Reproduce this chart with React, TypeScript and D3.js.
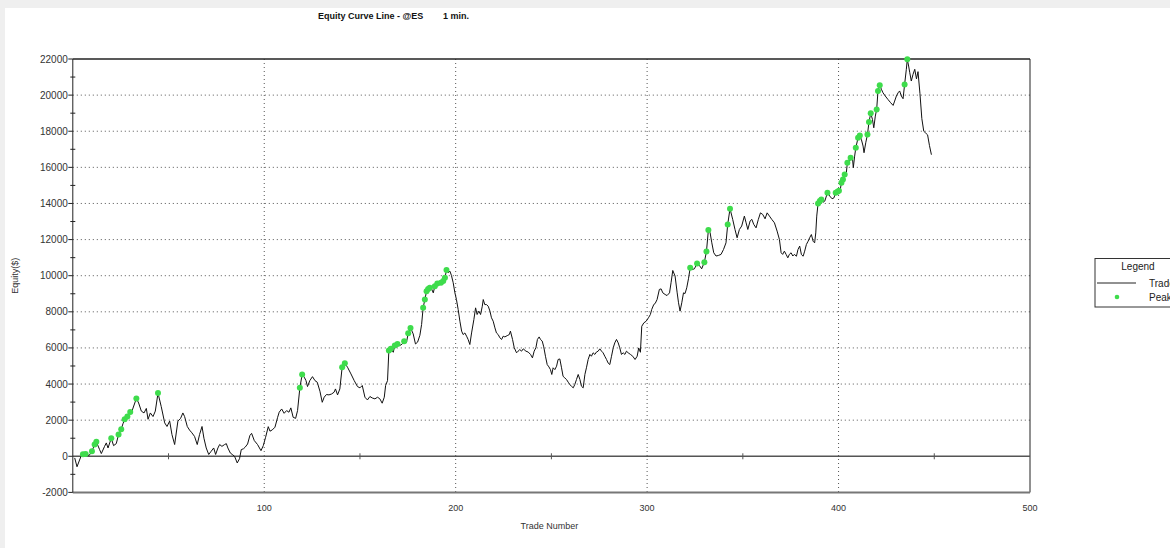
import React from 'react'
import * as d3 from 'd3'

// equity curve: trade number / equity in $
const tradeNo = [
  1, 2.2, 4.5, 5.3, 6.7, 8.5, 10, 11.4, 12.3, 14, 14.9, 16.6, 17.5, 18.4, 20.1, 21.3, 22.7, 23.9, 25.3, 26.2,
  27.1, 28.5, 30, 30.9, 33.2, 34.4, 35.8, 37.2, 38.4, 39.3, 40.5, 41.9, 43.1, 44.5, 46.2, 48, 49.2, 50.6, 51.8, 53.2,
  54.9, 56.3, 57.5, 58.4, 59.8, 61, 62.2, 63.6, 65, 66.2, 67.5, 68.5, 69.7, 71, 72.3, 73.6, 74.6, 75.8, 76.7, 77.9,
  79.3, 80.2, 81, 82.3, 83.3, 84.5, 85.9, 87.1, 88, 89.2, 90, 91.3, 92.5, 93.4, 94.8, 96.5, 98.3, 99.5, 100.7, 102.1,
  103, 104.2, 105.6, 107, 107.8, 109.1, 110.4, 111.7, 112.9, 113.9, 115.1, 116.4, 117.4, 118.6, 119.8, 120.9, 121.8, 122.6, 123.8, 125.2,
  126.5, 127.7, 129.1, 130.3, 131.3, 132.5, 133.8, 135.2, 136.5, 137.2, 138.3, 139.5, 140.7, 142.1, 143.5, 145.3, 147, 148.7, 150, 151.2,
  152.6, 153.9, 155.2, 156.4, 157.8, 159.2, 160.4, 161.6, 162.7, 163.4, 164.4, 165.1, 166.1, 167.4, 168.2, 169.6, 170.8, 172.1, 173.1, 174.3,
  175.2, 176.4, 177.8, 179, 180.1, 181.3, 182.2, 183, 183.9, 184.8, 185.6, 186.5, 187.4, 188.3, 189.1, 190.4, 191.4, 192.3, 193.5, 194.4,
  195.2, 196.1, 197, 197.8, 198.7, 199.6, 200.4, 201.3, 202.2, 203.1, 203.9, 204.8, 205.7, 206.5, 207.4, 208.3, 209.5, 210.4, 211.2, 212.1,
  213, 213.9, 214.4, 215.2, 216.1, 217, 217.9, 218.7, 219.6, 220.5, 221.3, 222.2, 223.1, 224, 224.8, 225.7, 226.9, 228, 228.6, 229.7,
  230.6, 231.8, 232.6, 233.5, 234.4, 235.3, 236.7, 237.9, 239.1, 240.1, 241, 241.9, 242.7, 243.6, 244.3, 245.2, 246, 246.9, 247.8, 248.7,
  249.5, 250.2, 250.9, 251.8, 252.7, 253.5, 254.4, 255.3, 256.1, 257, 257.9, 258.8, 259.6, 260.5, 261.4, 262.2, 263.1, 264, 264.9, 265.7,
  266.6, 267.5, 268.3, 269.2, 270.1, 270.9, 271.8, 272.7, 273.5, 274.4, 275.3, 276.2, 277, 277.9, 278.8, 279.6, 280.5, 281.4, 282.3, 283.1,
  284, 284.9, 285.7, 286.6, 287.5, 288.4, 289.2, 290.1, 291.3, 292.5, 293.7, 294.8, 295.6, 296.5, 297.2, 298.3, 299.5, 300.7, 301.7, 302.4,
  303.5, 304.2, 305.2, 306.4, 307.3, 308.2, 309.4, 310.4, 311.7, 312.5, 313.4, 314.6, 315.7, 316.4, 317.2, 318.1, 319, 319.8, 320.7, 321.6,
  322.5, 323.5, 324.7, 326.1, 327.3, 328.5, 329.9, 331, 332, 332.9, 333.8, 334.8, 336, 337.2, 338.6, 339.9, 341.2, 342.1, 343.3, 344.7,
  345.9, 347, 348.2, 349.4, 350.8, 351.7, 352.6, 353.8, 354.7, 355.7, 356.9, 358.1, 359.2, 360.4, 361.6, 362.7, 363.9, 365.1, 366.5, 367.9,
  369.1, 370, 370.8, 371.7, 372.6, 373.5, 374.3, 375.2, 376.1, 376.9, 378, 378.8, 379.7, 380.6, 381.5, 382.3, 383.2, 384.1, 384.9, 385.8,
  386.7, 387.5, 388.1, 388.6, 389.3, 390.2, 391, 391.9, 392.8, 394.2, 395.4, 396.6, 397.6, 398.5, 399.4, 400.2, 400.9, 401.5, 402.3, 403.2,
  404.1, 404.6, 405.5, 406.3, 407.2, 407.7, 408.4, 409, 410.2, 411.1, 411.9, 412.8, 413.3, 414.2, 415.1, 415.9, 416.8, 417.7, 418.4, 419.2,
  419.9, 420.6, 421.5, 422.4, 423.2, 424.4, 425.8, 427.2, 428.5, 429.3, 430.2, 431.1, 431.9, 432.8, 433.7, 434.5, 435.4, 435.9, 436.6, 437.2,
  438, 438.9, 439.8, 440.7, 441.5, 442.5, 443.5, 444.5, 445.5, 446.5, 447.5, 448.5,
]

const equity = [
  -90, -580, 60, 110, 120, 40, 280, 650, 800, 370, 150, 550, 740, 460, 1000, 590, 700, 1200, 1500, 1800,
  2050, 2200, 2450, 2500, 3200, 2950, 2500, 2400, 2650, 2050, 2400, 2200, 2500, 3500, 2750, 1850, 1650, 1950, 1200, 650,
  1950, 2100, 2400, 2200, 1650, 1450, 1300, 1100, 650, 1200, 1650, 1000, 460, 100, 280, 460, 100, 460, 650, 550,
  650, 700, 460, 180, 100, 0, -370, -130, 370, 420, 500, 680, 1150, 1270, 870, 650, 310, 590, 1050, 1640,
  1390, 1460, 1610, 2160, 2440, 2620, 2380, 2530, 2440, 2680, 2160, 2100, 2530, 3790, 4530, 4380, 4190, 3860, 4190, 4410,
  4190, 4100, 3600, 2990, 3270, 3420, 3400, 3450, 3550, 3730, 3400, 3730, 4930, 5150, 4930, 4560, 4190, 3860, 3790, 3920,
  3270, 3120, 3310, 3230, 3180, 3270, 3180, 2940, 3270, 3920, 4190, 5860, 5950, 5760, 6130, 6220, 6130, 6220, 6370, 6300,
  6820, 7110, 6780, 6220, 6320, 6700, 7300, 8220, 8680, 9140, 9270, 9330, 9270, 9050, 9420, 9570, 9510, 9610, 9700, 9880,
  10310, 10160, 10250, 10010, 9610, 9050, 8680, 8130, 7480, 6930, 6740, 6830, 6650, 6470, 6190, 6830, 7570, 8220, 7850, 8040,
  7850, 8310, 8680, 8400, 8400, 8310, 8040, 7670, 7480, 7110, 6830, 6740, 6560, 6470, 6650, 6610, 6680, 6740, 6930, 6470,
  6010, 5730, 5820, 5910, 5820, 5950, 5820, 5770, 5640, 5450, 5820, 6010, 6470, 6610, 6470, 6380, 6060, 5540, 5080, 4950,
  4800, 4530, 4900, 4800, 4990, 5360, 5390, 4900, 4430, 4340, 4250, 4100, 3970, 3880, 3790, 3970, 4250, 4530, 4250, 3880,
  3790, 4530, 4900, 5360, 5640, 5540, 5730, 5640, 5770, 5820, 5950, 5820, 5730, 5540, 5360, 5170, 5080, 5540, 6010, 6280,
  6470, 6280, 6010, 5640, 5730, 5640, 5820, 5730, 5640, 5540, 5360, 5540, 6000, 5760, 7200, 7390, 7480, 7670, 7850, 8130,
  8410, 8460, 8680, 9240, 9270, 9050, 8960, 8900, 9050, 9610, 10290, 9980, 9050, 8500, 8040, 8500, 9050, 9010, 9330, 9830,
  10440, 10340, 10380, 10680, 10570, 10380, 10750, 11340, 12530, 12380, 11820, 11270, 11090, 11120, 11180, 11450, 11820, 12840, 13710, 13120,
  12560, 12100, 12560, 12750, 13300, 12930, 12560, 13030, 13120, 12840, 12650, 13120, 13480, 13390, 13150, 13480, 13300, 13120, 12930, 12470,
  12010, 11270, 11180, 11360, 11180, 10990, 11180, 11270, 11090, 11180, 11080, 11450, 11640, 11170, 11080, 11360, 11730, 11910, 12100, 12280,
  11910, 11820, 12370, 13300, 14000, 14130, 14220, 14070, 14130, 14590, 14410, 14260, 14310, 14600, 14650, 14700, 14780, 15150, 15330, 15610,
  15740, 16250, 16250, 16530, 16590, 15980, 16620, 17080, 17640, 17770, 17550, 17180, 16810, 17360, 17820, 18510, 18990, 18660, 18190, 18840,
  19210, 20230, 20540, 20320, 20130, 19950, 19760, 19580, 19430, 19670, 19950, 20130, 20230, 19950, 19800, 20590, 21430, 21980, 21610, 21240,
  20780, 21150, 21430, 20900, 21300, 20100, 18700, 18000, 17900, 17800, 17200, 16700,
]

// trades flagged as new equity peaks (green dots)
const peakTrades = [
  5.3, 6.7, 10, 11.4, 12.3, 20.1, 23.9, 25.3, 27.1, 28.5, 30, 33.2, 44.5,
  118.6, 119.8, 140.7, 142.1, 165.1, 166.1, 168.2, 169.6, 173.1, 175.2, 176.4,
  183, 183.9, 184.8, 185.6, 186.5, 189.1, 190.4, 192.3, 193.5, 194.4, 195.2,
  322.5, 326.1, 329.9, 331, 332, 342.1, 343.3,
  389.3, 390.2, 391, 394.2, 398.5, 399.4, 400.2, 401.5, 402.3, 403.2, 404.6, 406.3,
  409, 410.2, 411.1, 415.1, 415.9, 416.8, 419.9, 420.6, 421.5, 434.5, 435.9,
]

const yTicks = [-2000, 0, 2000, 4000, 6000, 8000, 10000, 12000, 14000, 16000, 18000, 20000, 22000]
const yMinorTicks = [-1000, 1000, 3000, 5000, 7000, 9000, 11000, 13000, 15000, 17000, 19000, 21000]
const xTicks = [100, 200, 300, 400, 500]
const xMinorTicks = [50, 150, 250, 350, 450]

const legendItems = ['Trade', 'Peak']

const W = 1170
const H = 548
const FONT = 'Arial, "Liberation Sans", sans-serif'
const GREEN = '#3edc4c'

const App = () => {
  const x = d3.scaleLinear().domain([0, 500]).range([72.8, 1030])
  const y = d3.scaleLinear().domain([-2000, 22000]).range([492.4, 59])
  const [x0, x1] = x.range()
  const [yb, yt] = y.range()

  const points = tradeNo.map((t, i) => [t, equity[i]] as [number, number])
  const line = d3
    .line<[number, number]>()
    .x((d) => x(d[0]))
    .y((d) => y(d[1]))
  const eqAt = new Map(points.map((p) => [p[0], p[1]]))

  return (
    <svg width={W} height={H} style={{ display: 'block', fontFamily: FONT }}>
      <style>{`body{margin:0}`}</style>
      <rect x={0} y={0} width={W} height={H} fill="#efefef" />
      <rect x={5} y={8} width={W - 5} height={H - 8} fill="#fff" />

      {/* title */}
      <text x={318} y={19} fontSize={9} fontWeight="bold" fill="#111">
        Equity Curve Line - @ES
      </text>
      <text x={443} y={19} fontSize={9} fontWeight="bold" fill="#111">
        1 min.
      </text>

      {/* dotted grid */}
      {yTicks
        .filter((v) => v !== 0 && v !== -2000 && v !== 22000)
        .map((v) => (
          <line key={'gy' + v} x1={x0} x2={x1} y1={y(v)} y2={y(v)} stroke="#555" strokeDasharray="1 3" />
        ))}
      {xTicks
        .filter((v) => v !== 500)
        .map((v) => (
          <line key={'gx' + v} x1={x(v)} x2={x(v)} y1={yt} y2={yb} stroke="#555" strokeDasharray="1 3" />
        ))}

      {/* frame */}
      <line x1={x0} x2={x1} y1={yt} y2={yt} stroke="#222" strokeWidth={1.5} />
      <line x1={x1} x2={x1} y1={yt} y2={yb} stroke="#222" />
      <line x1={x0} x2={x1} y1={yb} y2={yb} stroke="#777" strokeWidth={2} />
      <line x1={x0} x2={x1} y1={y(0)} y2={y(0)} stroke="#555" strokeWidth={1.5} />
      <line x1={x0} x2={x0} y1={yt} y2={yb} stroke="#222" />

      {/* y axis */}
      {yTicks.map((v) => (
        <g key={'yt' + v}>
          <line x1={x0 - 4.5} x2={x0} y1={y(v)} y2={y(v)} stroke="#222" />
          <text x={x0 - 5} y={y(v)} dy="0.35em" fontSize={10} textAnchor="end" fill="#333">
            {v}
          </text>
        </g>
      ))}
      {yMinorTicks.map((v) => (
        <line key={'ym' + v} x1={x0 - 2.5} x2={x0 + 2.5} y1={y(v)} y2={y(v)} stroke="#222" />
      ))}

      {/* x axis */}
      {xMinorTicks.map((v) => (
        <line key={'xm' + v} x1={x(v)} x2={x(v)} y1={y(0) - 3} y2={y(0) + 3} stroke="#555" />
      ))}
      {xTicks.map((v) => (
        <text key={'xt' + v} x={x(v)} y={511} fontSize={9} textAnchor="middle" fill="#333">
          {v}
        </text>
      ))}

      <text x={(x0 + x1) / 2 - 2} y={529} fontSize={9} textAnchor="middle" fill="#333">
        Trade Number
      </text>
      <text
        transform={`translate(18,${(yt + yb) / 2}) rotate(-90)`}
        fontSize={9}
        textAnchor="middle"
        fill="#333"
      >
        Equity($)
      </text>

      {/* equity line and peaks */}
      <path d={line(points) ?? ''} fill="none" stroke="#111" strokeWidth={1} />
      {peakTrades.map((t) => (
        <circle key={'pk' + t} cx={x(t)} cy={y(eqAt.get(t) ?? 0)} r={3} fill={GREEN} />
      ))}

      {/* legend */}
      <g>
        <rect x={1095} y={258.5} width={90} height={48.5} fill="#fff" stroke="#333" />
        <text x={1138} y={270} fontSize={10} textAnchor="middle" fill="#222">
          Legend
        </text>
        <line x1={1097} x2={1136} y1={283} y2={283} stroke="#222" />
        <circle cx={1117} cy={297} r={2.3} fill={GREEN} />
        {legendItems.map((name, i) => (
          <text key={name} x={1149} y={286.5 + i * 14} fontSize={10} fill="#222">
            {name}
          </text>
        ))}
      </g>
    </svg>
  )
}

export default App
